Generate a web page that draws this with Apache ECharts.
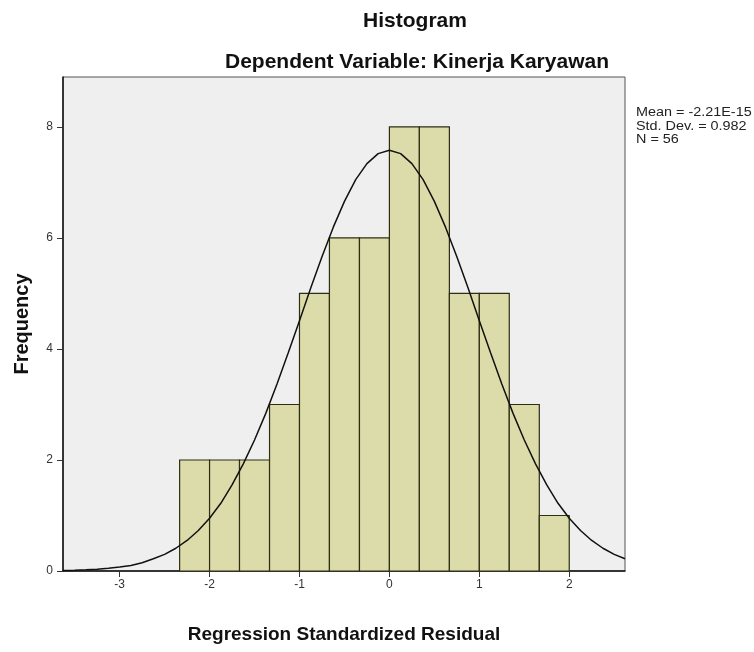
<!DOCTYPE html>
<html>
<head>
<meta charset="utf-8">
<script src="https://cdn.jsdelivr.net/npm/echarts@6/dist/echarts.min.js"></script>
<style>
  html, body { margin: 0; padding: 0; background: #fff; }
  #chart { width: 754px; height: 652px; }
</style>
</head>
<body>
<div id="chart"></div>
<script>
// histogram bins (edges) and counts
const binEdges = [-2.333, -2, -1.667, -1.333, -1, -0.667, -0.333, 0, 0.333, 0.667, 1, 1.333, 1.667, 2]
const frequency = [2, 2, 2, 3, 5, 6, 6, 8, 8, 5, 5, 3, 1]

// normal curve
const curveX = [-3.63, -3.5, -3.375, -3.25, -3.125, -3, -2.875, -2.75, -2.625, -2.5, -2.375, -2.25, -2.125, -2,
    -1.875, -1.75, -1.625, -1.5, -1.375, -1.25, -1.125, -1, -0.875, -0.75, -0.625, -0.5, -0.375, -0.25, -0.125, 0,
    0.125, 0.25, 0.375, 0.5, 0.625, 0.75, 0.875, 1, 1.125, 1.25, 1.375, 1.5, 1.625, 1.75, 1.875, 2,
    2.125, 2.25, 2.375, 2.5, 2.62]
const curveY = [0.01, 0.013, 0.021, 0.032, 0.048, 0.071, 0.1, 0.15, 0.22, 0.3, 0.41, 0.55, 0.73, 0.95,
    1.22, 1.55, 1.93, 2.36, 2.84, 3.37, 3.93, 4.51, 5.1, 5.66, 6.19, 6.66, 7.05, 7.34, 7.52, 7.58,
    7.52, 7.34, 7.05, 6.66, 6.19, 5.66, 5.1, 4.51, 3.93, 3.37, 2.84, 2.36, 1.93, 1.55, 1.22, 0.95,
    0.73, 0.55, 0.41, 0.3, 0.22]

const xTicks = [-3, -2, -1, 0, 1, 2]
const yTicks = [0, 2, 4, 6, 8]
const statsLines = ['Mean = -2.21E-15', 'Std. Dev. = 0.982', 'N = 56']

const font = 'Liberation Sans, Arial, sans-serif'

let bins = frequency.map((f, i) => [binEdges[i], binEdges[i + 1], f])
let curve = curveX.map((x, i) => [x, curveY[i]])

let chart = echarts.init(document.getElementById('chart'))
chart.setOption({
    animation: false,
    backgroundColor: '#fff',
    grid: {
        left: 63,
        right: 129,
        top: 77,
        bottom: 81,
        show: true,
        backgroundColor: '#efefef',
        borderColor: '#555',
        borderWidth: 1
    },
    graphic: [
        {
            type: 'text', x: 415, y: 21,
            style: { text: 'Histogram', font: 'bold 21px ' + font, fill: '#111', align: 'center', verticalAlign: 'middle' }
        },
        {
            type: 'text', x: 417, y: 62,
            style: { text: 'Dependent Variable: Kinerja Karyawan', font: 'bold 21px ' + font, fill: '#111', align: 'center', verticalAlign: 'middle' }
        },
        {
            type: 'text', x: 636, y: 106, scaleX: 1.2,
            style: { text: statsLines.join('\n'), font: '12px ' + font, fill: '#222', lineHeight: 13.5 }
        }
    ],
    xAxis: {
        type: 'value',
        min: -3.63,
        max: 2.62,
        name: 'Regression Standardized Residual',
        nameLocation: 'middle',
        nameGap: 54,
        nameTextStyle: { fontFamily: font, fontWeight: 'bold', fontSize: 19, color: '#111' },
        axisLine: { onZero: false, lineStyle: { color: '#111', width: 1.5 } },
        axisTick: { show: true, customValues: xTicks, length: 6, lineStyle: { color: '#333' } },
        axisLabel: { customValues: xTicks, fontFamily: font, fontSize: 12, color: '#333', margin: 8 },
        splitLine: { show: false }
    },
    yAxis: {
        type: 'value',
        min: 0,
        max: 8.9,
        name: 'Frequency',
        nameLocation: 'middle',
        nameGap: 31,
        nameTextStyle: { fontFamily: font, fontWeight: 'bold', fontSize: 20, color: '#111' },
        axisLine: { show: true, onZero: false, lineStyle: { color: '#111', width: 1.5 } },
        axisTick: { show: true, customValues: yTicks, length: 6, lineStyle: { color: '#333' } },
        axisLabel: { customValues: yTicks, fontFamily: font, fontSize: 12, color: '#333', margin: 10 },
        splitLine: { show: false }
    },
    series: [
        {
            type: 'custom',
            data: bins,
            encode: { x: [0, 1], y: 2 },
            renderItem: function (params, api) {
                let p0 = api.coord([api.value(0), 0])
                let p1 = api.coord([api.value(1), api.value(2)])
                return {
                    type: 'rect',
                    shape: { x: p0[0], y: p1[1], width: p1[0] - p0[0], height: p0[1] - p1[1] },
                    style: { fill: '#dcdcaa', stroke: '#2e2e14', lineWidth: 1.2 }
                }
            },
            z: 2
        },
        {
            type: 'line',
            data: curve,
            smooth: false,
            showSymbol: false,
            lineStyle: { color: '#111', width: 1.5 },
            z: 3
        }
    ]
})
</script>
</body>
</html>
